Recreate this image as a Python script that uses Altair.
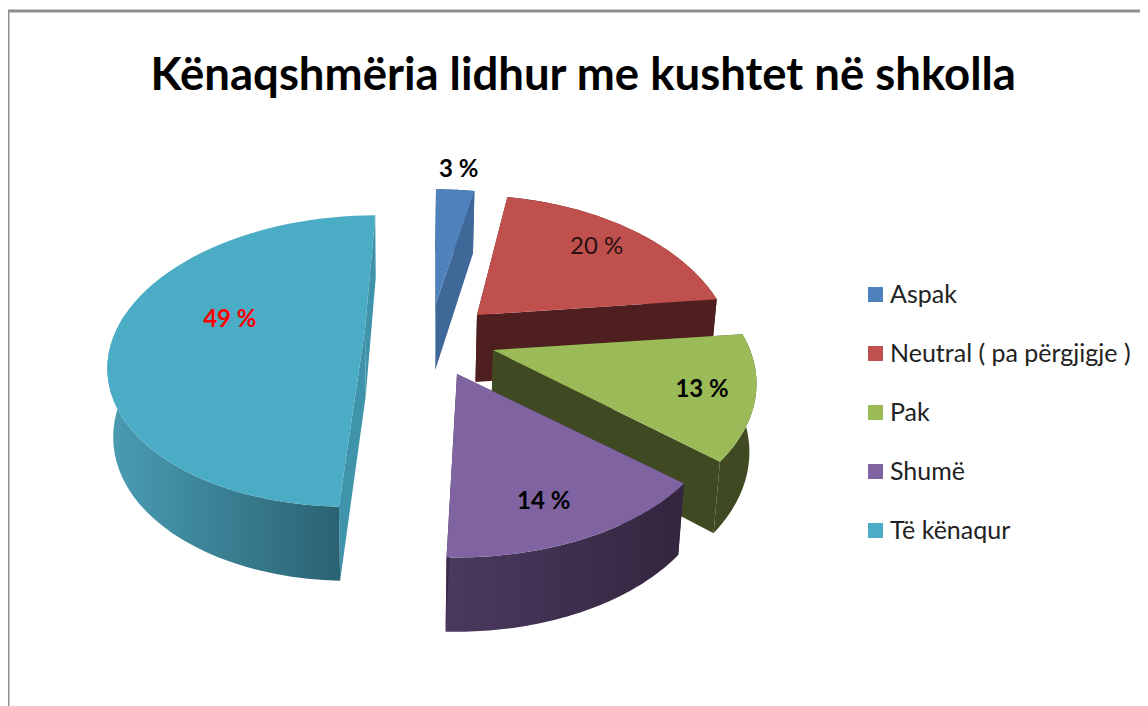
import numpy as np
import pandas as pd
import altair as alt

# ---- chart values
TITLE = "Kënaqshmëria lidhur me kushtet në shkolla"
CATEGORIES = ["Aspak", "Neutral ( pa përgjigje )", "Pak", "Shumë", "Të kënaqur"]
VALUES = [3, 20, 13, 14, 49]
LABELS = ["3 %", "20 %", "13 %", "14 %", "49 %"]
TOP_COLORS = ["#4f81bd", "#c0504d", "#9bbb59", "#8064a2", "#4bacc6"]

# ---- layout of the perspective drawing (screen pixels, not data)
TIP_X = [436, 477, 493, 457, 365]
TIP_Y = [303, 315, 350, 374, 329]
SHEAR = [0, -0.07, 0, 0, 0.09]
RX_SCALE = [0.98, 0.985, 1.02, 1.02, 0.985]
RY_SCALE = [0.95, 1, 1, 0.98, 0.95]
LABEL_R = [1.22, 0.76, 0.81, 0.8, 0.56]
LABEL_DT = [0, 0, 1.5, 3, 6]
RX, RY, PERSP = 252, 146, 0.22
FONT = "Lato"
SHARED_WALL = ["#3f6899", "#4f1f1f", "#3f4a23", "#3a2a48", "#3f93ab"]

def grad(a, b):
    return alt.Gradient(gradient="linear", x1=0, x2=1, y1=0, y2=0,
                        stops=[alt.GradientStop(offset=0, color=a),
                               alt.GradientStop(offset=1, color=b)])

RIM_FILL = ["#3f6899", "#4f1f1f", "#3f4a23",
            grad("#4b3a60", "#33253e"), grad("#4a9db4", "#2a6272")]

X = alt.X("x:Q", axis=None, scale=alt.Scale(domain=[8, 1140], nice=False, zero=False))
Y = alt.Y("y:Q", axis=None, scale=alt.Scale(domain=[706, 8], nice=False, zero=False))

total = sum(VALUES)
edges = np.concatenate([[0], np.cumsum(VALUES)]) / total * 2 * np.pi

def top_pt(i, t, r=1.0):
    c = np.cos(t)
    s = 1 / (1 + PERSP * r * c)
    dx = RX * RX_SCALE[i] * r * np.sin(t) * s
    dy = -RY * RY_SCALE[i] * r * c * s
    return TIP_X[i] + dx - SHEAR[i] * dy, TIP_Y[i] + dy, dy

def low_pt(i, t, r=1.0):
    x, y, dy = top_pt(i, t, r)
    return x + (400 - x) * 0.02, y + 67 + 0.04 * dy

def frame(points):
    return pd.DataFrame({"x": [p[0] for p in points], "y": [p[1] for p in points],
                         "ord": range(len(points))})

def poly(points, fill):
    return alt.Chart(frame(points)).mark_line(
        interpolate="linear-closed", fill=fill, stroke=None, strokeWidth=0, clip=False
    ).encode(x=X, y=Y, order="ord:Q")

color_scale = alt.Scale(domain=CATEGORIES, range=TOP_COLORS)
legend = alt.Legend(
    title=None, orient="none", legendX=855, legendY=274, symbolType="square", symbolSize=225,
    symbolStrokeWidth=0, labelFont=FONT, labelFontSize=25, labelColor="#222222",
    rowPadding=33, labelOffset=2, labelLimit=300, symbolOpacity=1,
)

layers = []
for i, cat in enumerate(CATEGORIES):
    t0, t1 = edges[i], edges[i + 1]
    ts = np.linspace(t0, t1, 60)
    tip = (TIP_X[i], TIP_Y[i])
    tip_low = low_pt(i, 0.0, 0.0)
    wall = SHARED_WALL[i]
    # radial wall at the start of the slice
    a = top_pt(i, t0)[:2]
    layers.append(poly([tip, a, low_pt(i, t0), tip_low], wall))
    # outer rim
    rim = [top_pt(i, t)[:2] for t in ts] + [low_pt(i, t) for t in ts[::-1]]
    if i == 4:
        ts2 = ts[ts <= 3 * np.pi / 2 + 0.1]
        rim = [top_pt(i, t)[:2] for t in ts2] + [low_pt(i, t) for t in ts2[::-1]]
    layers.append(poly(rim, RIM_FILL[i]))
    # radial wall at the end of the slice
    b = top_pt(i, t1)[:2]
    layers.append(poly([tip, b, low_pt(i, t1), tip_low], wall))
    # top face
    face = [tip] + [top_pt(i, t)[:2] for t in ts]
    df = frame(face)
    df["cat"] = cat
    layers.append(
        alt.Chart(df).mark_line(interpolate="linear-closed", strokeWidth=0, filled=True).encode(
            x=X, y=Y, order="ord:Q",
            fill=alt.Fill("cat:N", scale=color_scale, legend=legend),
        )
    )

for i, lab in enumerate(LABELS):
    tm = (edges[i] + edges[i + 1]) / 2 + np.radians(LABEL_DT[i])
    lx, ly, _ = top_pt(i, tm, LABEL_R[i])
    df = pd.DataFrame({"x": [lx], "y": [ly], "t": [lab]})
    weight = "normal" if i == 1 else "bold"
    col = "#ff0000" if i == 4 else ("#2a1010" if i == 1 else "#000000")
    layers.append(
        alt.Chart(df).mark_text(font=FONT, fontSize=24, fontWeight=weight, color=col,
                                align="center", baseline="middle").encode(x=X, y=Y, text="t:N")
    )

# outer frame of the picture
FRAME = "#8f8f8f"
layers.append(alt.Chart(pd.DataFrame({"a": [0]})).mark_rule(color=FRAME, strokeWidth=3).encode(
    x=alt.value(0), x2=alt.value(1132), y=alt.value(3)))
layers.append(alt.Chart(pd.DataFrame({"a": [0]})).mark_rule(color=FRAME, strokeWidth=3).encode(
    y=alt.value(3), y2=alt.value(698), x=alt.value(0)))

chart = alt.layer(*layers).properties(
    width=1132, height=698, padding=0,
    autosize=alt.AutoSizeParams(type="none"),
    title=alt.TitleParams(TITLE, font=FONT, fontSize=45.5, fontWeight="bold",
                          color="#000000", anchor="start", dx=144, offset=-127, baseline="alphabetic"),
).configure_view(stroke=None)

chart.save("out.html", embed_options={"renderer": "svg", "actions": False})
